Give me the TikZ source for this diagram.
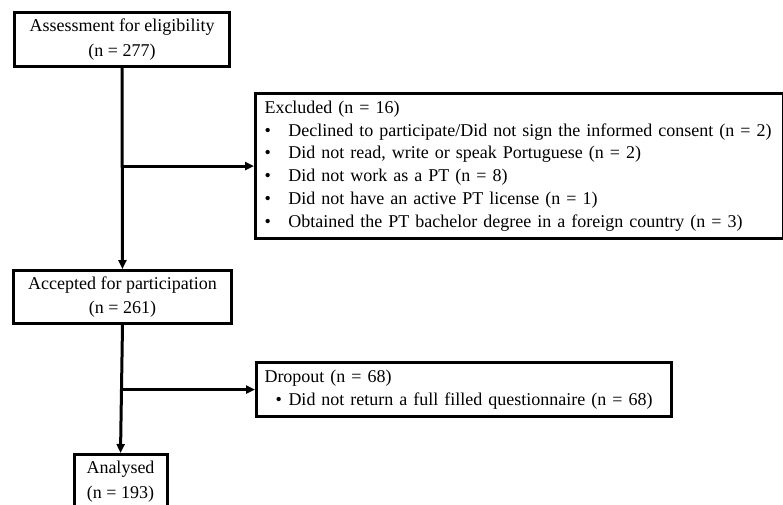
\documentclass[tikz,border=0pt]{standalone}
\usepackage{fontspec}
\setmainfont{Liberation Serif}
\usetikzlibrary{arrows.meta}
\newcommand\bltA{\makebox[24pt][l]{\textbullet}}
\newcommand\bltB{\hspace{11pt}\makebox[13pt][l]{\textbullet}}
\tikzset{
  box/.style={draw, line width=3pt, inner sep=0pt, align=center,
    font=\fontsize{18pt}{24.5pt}\selectfont},
  listbox/.style={draw, line width=3pt, inner ysep=0pt, align=left,
    font=\fontsize{18pt}{22.8pt}\selectfont},
  arr/.style={line width=3pt, -{Triangle[length=9pt,width=8pt]}}
}
\begin{document}
\begin{tikzpicture}[x=1pt,y=-1pt]
\useasboundingbox (0,0) rectangle (783,504);
\node[box, minimum width=215pt, minimum height=54pt, anchor=north west] (assess) at (13,11) {Assessment for eligibility\\(n = 277)};
\node[listbox, inner xsep=9pt, text width=510pt, minimum height=145pt, anchor=north west] (exclu) at (254,92) {Excluded (n = 16)\\
\bltA Declined to participate/Did not sign the informed consent (n = 2)\\
\bltA Did not read, write or speak Portuguese (n = 2)\\
\bltA Did not work as a PT (n = 8)\\
\bltA Did not have an active PT license (n = 1)\\
\bltA Obtained the PT bachelor degree in a foreign country (n = 3)};
\node[box, minimum width=218pt, minimum height=53pt, anchor=north west] (accept) at (12,269) {Accepted for participation\\(n = 261)};
\node[listbox, inner xsep=8pt, text width=399pt, minimum height=54pt, anchor=north west] (drop) at (255,361) {Dropout (n = 68)\\
\bltB Did not return a full filled questionnaire (n = 68)};
\node[box, minimum width=93pt, minimum height=54pt, anchor=north] (anal) at (120.5,453) {Analysed\\(n = 193)};
\coordinate (j1) at (assess.south |- exclu.west);
\coordinate (j2) at (accept.south |- drop.west);
\draw[arr] (assess.south) -- (accept.north);
\draw[arr] (j1) -- (exclu.west);
\draw[arr] (accept.south) -- (anal.north);
\draw[arr] (j2) -- (drop.west);
\end{tikzpicture}
\end{document}
